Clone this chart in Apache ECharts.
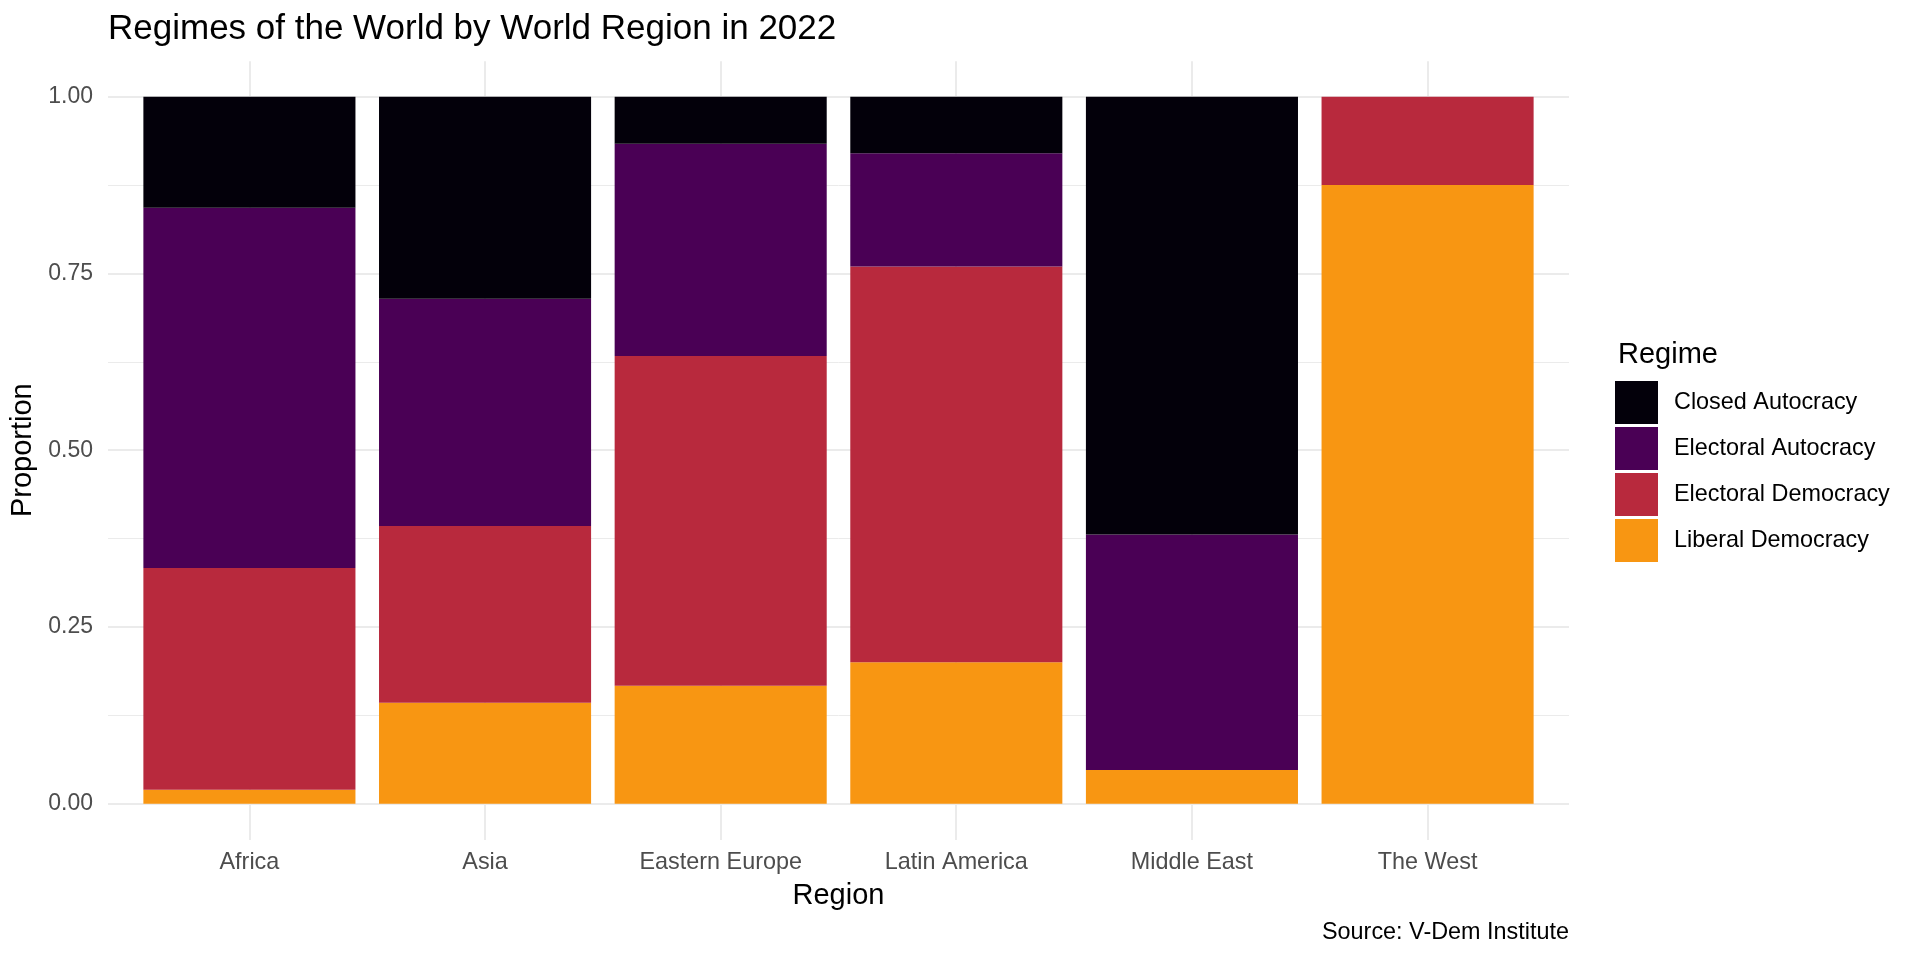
<!DOCTYPE html>
<html>
<head>
<meta charset="utf-8">
<title>Regimes of the World by World Region in 2022</title>
<script src="https://cdn.jsdelivr.net/npm/echarts@6/dist/echarts.min.js"></script>
<style>
  html, body { margin: 0; padding: 0; background: #fff; }
  #chart { width: 1920px; height: 960px; }
</style>
</head>
<body>
<div id="chart"></div>
<script>
// 数据：各地区的政体比例
const regions = ['Africa', 'Asia', 'Eastern Europe', 'Latin America', 'Middle East', 'The West'];
const regimes = ['Closed Autocracy', 'Electoral Autocracy', 'Electoral Democracy', 'Liberal Democracy'];
const liberalDemocracy   = [0.0196, 0.1429, 0.1667, 0.20, 0.0476, 0.875];
const electoralDemocracy = [0.3137, 0.2500, 0.4667, 0.56, 0.0000, 0.125];
const electoralAutocracy = [0.5098, 0.3214, 0.3000, 0.16, 0.3333, 0.000];
const closedAutocracy    = [0.1569, 0.2857, 0.0667, 0.08, 0.6191, 0.000];
const yTickLabels = ['0.00', '0.25', '0.50', '0.75', '1.00'];

const regimeColors = {
    'Closed Autocracy': '#03000a',
    'Electoral Autocracy': '#4a0055',
    'Electoral Democracy': '#b8293d',
    'Liberal Democracy': '#f89612'
};

const font = "'Liberation Sans', Arial, sans-serif";
const gridColor = '#ebebeb';

var myChart = echarts.init(document.getElementById('chart'));

// 堆叠顺序：自下而上
const stackOrder = [
    ['Liberal Democracy', liberalDemocracy],
    ['Electoral Democracy', electoralDemocracy],
    ['Electoral Autocracy', electoralAutocracy],
    ['Closed Autocracy', closedAutocracy]
];

const seriesData = stackOrder.map(([name, values]) => ({
    name: name,
    type: 'bar',
    stack: 'regime',
    xAxisIndex: 2,
    yAxisIndex: 2,
    barWidth: '90%',
    data: values,
    itemStyle: { color: regimeColors[name] },
    emphasis: { disabled: true }
}));

var option = {
    animation: false,
    backgroundColor: '#ffffff',
    textStyle: { fontFamily: font },
    title: [
        {
            text: 'Regimes of the World by World Region in 2022',
            left: 103,
            top: 7,
            textStyle: { fontSize: 35, fontWeight: 'normal', color: '#000', fontFamily: font }
        },
        {
            text: 'Regime',
            left: 1613,
            top: 335,
            textStyle: { fontSize: 29, fontWeight: 'normal', color: '#000', fontFamily: font }
        },
        {
            text: 'Source: V-Dem Institute',
            right: 351,
            top: 921,
            padding: 0,
            textStyle: { fontSize: 23.4, fontWeight: 'normal', color: '#000', fontFamily: font }
        }
    ],
    legend: {
        data: regimes,
        orient: 'vertical',
        left: 1615,
        top: 381,
        padding: 0,
        itemWidth: 43,
        itemHeight: 43,
        itemGap: 3,
        icon: 'rect',
        selectedMode: false,
        textStyle: { fontSize: 23.4, color: '#000', fontFamily: font, padding: [6, 0, 0, 11] }
    },
    grid: [
        // 水平网格线
        { left: 108, right: 351, top: 96.7, bottom: 156.3 },
        // 垂直网格线（位于各类别中心）
        { left: 249.4, right: 492.6, top: 61.3, bottom: 120 },
        // 柱状图
        { left: 131.6, right: 374.6, top: 96.7, bottom: 156.3 }
    ],
    xAxis: [
        { gridIndex: 0, type: 'value', min: 0, max: 1, show: false },
        {
            gridIndex: 1, type: 'value', min: 0, max: 5, interval: 1,
            axisLine: { show: false }, axisTick: { show: false }, axisLabel: { show: false },
            splitLine: { show: true, lineStyle: { color: gridColor, width: 2 } }
        },
        {
            gridIndex: 2, type: 'category', data: regions,
            axisLine: { show: false }, axisTick: { show: false },
            axisLabel: { fontSize: 23.4, color: '#4d4d4d', margin: 47, fontFamily: font },
            name: 'Region',
            nameLocation: 'middle',
            nameGap: 78,
            nameTextStyle: { fontSize: 29, color: '#000', fontFamily: font }
        }
    ],
    yAxis: [
        {
            gridIndex: 0, type: 'value', min: 0, max: 1, interval: 0.25,
            axisLine: { show: false }, axisTick: { show: false },
            axisLabel: {
                fontSize: 23, color: '#4d4d4d', margin: 15, fontFamily: font,
                formatter: v => yTickLabels[Math.round(v / 0.25)]
            },
            splitLine: { show: true, lineStyle: { color: gridColor, width: 2 } },
            minorTick: { show: false, splitNumber: 2 },
            minorSplitLine: { show: true, lineStyle: { color: gridColor, width: 1 } },
            name: 'Proportion',
            nameLocation: 'middle',
            nameGap: 70,
            nameTextStyle: { fontSize: 29, color: '#000', fontFamily: font }
        },
        { gridIndex: 1, type: 'value', min: 0, max: 1, show: false },
        { gridIndex: 2, type: 'value', min: 0, max: 1, show: false }
    ],
    series: seriesData
};

myChart.setOption(option);
</script>
</body>
</html>
